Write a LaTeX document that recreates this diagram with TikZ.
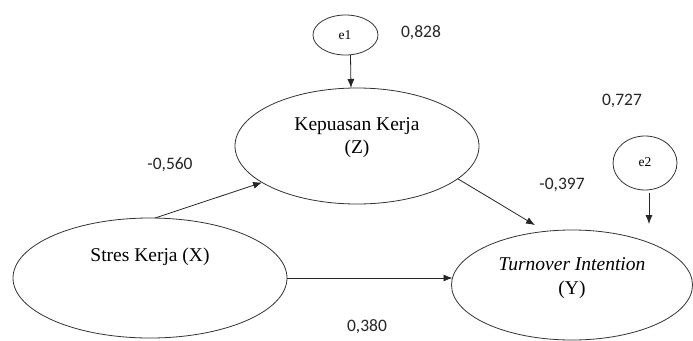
\documentclass[tikz,border=0pt]{standalone}
\usepackage{fontspec}
\setmainfont{Liberation Serif}
\newfontfamily\numfont{Carlito}
\usetikzlibrary{shapes.geometric,arrows.meta,calc}
\begin{document}
\begin{tikzpicture}[x=1pt,y=-1pt,
  lv/.style={draw=black!80, line width=0.8pt, ellipse, inner sep=0pt, outer sep=0pt},
  ename/.style={font=\fontsize{19.5}{23.5}\selectfont, align=center, inner sep=0pt},
  enm/.style={font=\fontsize{13.5}{16}\selectfont, inner sep=0pt},
  coef/.style={font=\numfont\fontsize{17.5}{20}\selectfont, text=black!85, inner sep=0pt},
  path/.style={draw=black!85, line width=0.8pt, -{Latex[length=9pt,width=7pt]}}]
\useasboundingbox[fill=white] (0,0) rectangle (693,340);
% latent variables
\node[lv, minimum width=244pt, minimum height=116pt] (Z) at (357,146) {};
\node[lv, minimum width=274pt, minimum height=120pt] (X) at (150,278) {};
\node[lv, minimum width=241pt, minimum height=110pt] (Y) at (572,285) {};
\node[lv, minimum width=65pt, minimum height=40pt] (e1) at (345.5,35) {};
\node[lv, minimum width=64pt, minimum height=54pt] (e2) at (645,163) {};
% texts
\node[ename] (Zt) at (357,137.5) {Kepuasan Kerja\\(Z)};
\node[ename] (Xt) at (150,257) {Stres Kerja (X)};
\node[ename] (Yt) at (572,278) {\textit{Turnover Intention}\\(Y)};
\node[enm] (e1t) at (345,35) {e1};
\node[enm] (e2t) at (645,162) {e2};
% coefficients
\node[coef] (c1) at (421,33) {0,828};
\node[coef] (c2) at (622,101) {0,727};
\node[coef] (c3) at (170,165) {-0,560};
\node[coef] (c4) at (562,185) {-0,397};
\node[coef] (c5) at (367,327) {0,380};
% paths
\coordinate (e2end) at (649,224);
\draw[path] ([xshift=5pt]e1.south) -- ([xshift=-6pt]Z.north);
\draw[path] ([xshift=4pt,yshift=-3pt]e2.south) -- (e2end);
\draw[path] ([xshift=5pt]X.north) -- (Z.201);
\draw[path] (Z.-18) -- ([shift={(-4pt,7pt)}]Y.122);
\draw[path] (X.east) -- ([xshift=1pt]X.east -| Y.west);
\end{tikzpicture}
\end{document}
